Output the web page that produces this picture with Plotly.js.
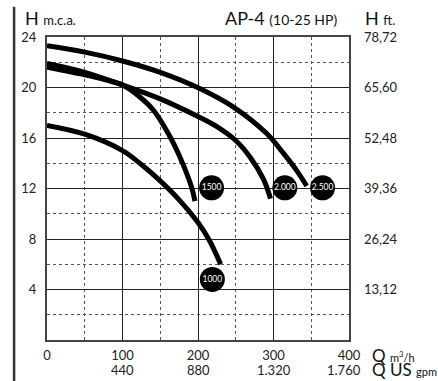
<!DOCTYPE html>
<html>
<head>
<meta charset="utf-8">
<script src="https://cdn.plot.ly/plotly-3.0.1.min.js"></script>
<style>html,body{margin:0;padding:0;background:#fff;}#chart{width:438px;height:381px;}</style>
</head>
<body>
<div id="chart"></div>
<script>
// Curve data: flow Q (m3/h) vs head H (m.c.a.)
const flow1000 = [0, 50, 100, 125, 150, 175, 200, 215, 230];
const head1000 = [17.0, 16.3, 15.0, 13.9, 12.6, 11.1, 9.3, 7.9, 6.0];
const flow1500 = [0, 50, 75, 100, 123, 141, 163, 176, 185, 192, 196];
const head1500 = [21.6, 21.0, 20.65, 20.2, 19.25, 18.2, 16.1, 14.5, 13.2, 12.0, 11.0];
const flow2000 = [0, 50, 100, 150, 200, 225, 250, 270, 287, 296];
const head2000 = [21.9, 21.2, 20.2, 19.1, 17.7, 16.9, 15.8, 14.4, 12.7, 11.2];
const flow2500 = [0, 50, 100, 150, 203, 247, 291, 313, 331, 344];
const head2500 = [23.3, 22.8, 22.1, 21.2, 19.9, 18.45, 16.35, 14.8, 13.4, 12.2];

// Curve labels (badges)
const badgeText = ['1500', '2.000', '2.500', '1000'];
const badgeQ = [218, 315, 365, 219];
const badgeH = [12.05, 12.05, 12.05, 4.8];

// Axis ticks
const xTickVals = [0, 100, 200, 300, 400];
const xTickText = ['0', '100', '200', '300', '400'];
const gpmVals = [100, 200, 300, 400];
const gpmText = ['440', '880', '1.320', '1.760'];
const yTickVals = [4, 8, 12, 16, 20, 24];
const yTickText = ['4', '8', '12', '16', '20', '24'];
const ftTickText = ['13,12', '26,24', '39,36', '52,48', '65,60', '78,72'];

const FONT = 'Lato, "Open Sans", sans-serif';
const curveLine = {color: '#000', width: 5, shape: 'spline', smoothing: 1};

const traces = [
  {x: flow1000, y: head1000, mode: 'lines', line: curveLine, hoverinfo: 'skip'},
  {x: flow1500, y: head1500, mode: 'lines', line: curveLine, hoverinfo: 'skip'},
  {x: flow2000, y: head2000, mode: 'lines', line: curveLine, hoverinfo: 'skip'},
  {x: flow2500, y: head2500, mode: 'lines', line: curveLine, hoverinfo: 'skip'},
  {x: badgeQ, y: badgeH, mode: 'markers+text', text: badgeText, textposition: 'middle center',
   marker: {size: 25, color: '#000'}, textfont: {family: FONT, size: 8.5, color: '#fff'},
   cliponaxis: false, hoverinfo: 'skip'},
  // invisible trace to drive the right axis
  {x: [0], y: [0], yaxis: 'y2', mode: 'markers', marker: {opacity: 0}, hoverinfo: 'skip'}
];

const annotations = [
  {xref: 'paper', yref: 'paper', x: -0.08, y: 1, xanchor: 'left', yanchor: 'bottom', yshift: 6,
   showarrow: false, text: 'H <span style="font-size:13px">m.c.a.</span>', font: {family: FONT, size: 18, color: '#111'}},
  {xref: 'paper', yref: 'paper', x: 0.583, y: 1, xanchor: 'left', yanchor: 'bottom', yshift: 6,
   showarrow: false, text: 'AP-4 <span style="font-size:14px">(10-25 HP)</span>', font: {family: FONT, size: 18, color: '#111'}},
  {xref: 'paper', yref: 'paper', x: 1.048, y: 1, xanchor: 'left', yanchor: 'bottom', yshift: 6,
   showarrow: false, text: 'H <span style="font-size:13px">ft.</span>', font: {family: FONT, size: 18, color: '#111'}},
  {xref: 'paper', yref: 'paper', x: 1.068, y: 0, xanchor: 'left', yanchor: 'middle', yshift: -15,
   showarrow: false, text: 'Q <span style="font-size:11px">m<sup>3</sup>/h</span>', font: {family: FONT, size: 17, color: '#111'}},
  {xref: 'paper', yref: 'paper', x: 1.068, y: 0, xanchor: 'left', yanchor: 'middle', yshift: -29,
   showarrow: false, text: 'Q US <span style="font-size:11px">gpm</span>', font: {family: FONT, size: 17, color: '#111'}}
];
gpmVals.forEach((v, i) => {
  annotations.push({xref: 'x', yref: 'paper', x: v, y: 0, xanchor: 'center', yanchor: 'middle', yshift: -30,
    xshift: i === gpmVals.length - 1 ? -5 : 0,
    showarrow: false, text: gpmText[i], font: {family: FONT, size: 13, color: '#222'}});
});

const layout = {
  width: 438, height: 381,
  margin: {l: 47, r: 89, t: 37, b: 41, pad: 0},
  paper_bgcolor: '#fff', plot_bgcolor: '#fff',
  showlegend: false,
  font: {family: FONT, size: 13, color: '#222'},
  xaxis: {
    range: [0, 400], tickvals: xTickVals, ticktext: xTickText, ticks: '',
    showgrid: true, gridcolor: '#222', gridwidth: 1,
    minor: {dtick: 50, tick0: 0, showgrid: true, gridcolor: '#555', griddash: 'dot', gridwidth: 1},
    showline: true, linecolor: '#444', linewidth: 2, mirror: true,
    zeroline: false, ticklabelstandoff: 2, fixedrange: true
  },
  yaxis: {
    range: [0, 24], tickvals: yTickVals, ticktext: yTickText, ticks: '',
    showgrid: true, gridcolor: '#222', gridwidth: 1,
    minor: {dtick: 2, tick0: 0, showgrid: true, gridcolor: '#555', griddash: 'dot', gridwidth: 1},
    showline: true, linecolor: '#444', linewidth: 2, mirror: true,
    zeroline: false, ticklabelstandoff: 6, fixedrange: true
  },
  yaxis2: {
    overlaying: 'y', side: 'right', range: [0, 24], tickvals: yTickVals, ticktext: ftTickText,
    ticks: '', showgrid: false, zeroline: false, showline: false, ticklabelstandoff: 14,
    tickfont: {family: FONT, size: 13, color: '#222'}, fixedrange: true
  },
  shapes: [
    {type: 'line', xref: 'paper', yref: 'paper', x0: -0.109, x1: -0.109, y0: -0.14, y1: 1.1,
     line: {color: '#333', width: 2.5}}
  ],
  annotations: annotations
};

Plotly.newPlot('chart', traces, layout, {displayModeBar: false, staticPlot: true});
</script>
</body>
</html>
